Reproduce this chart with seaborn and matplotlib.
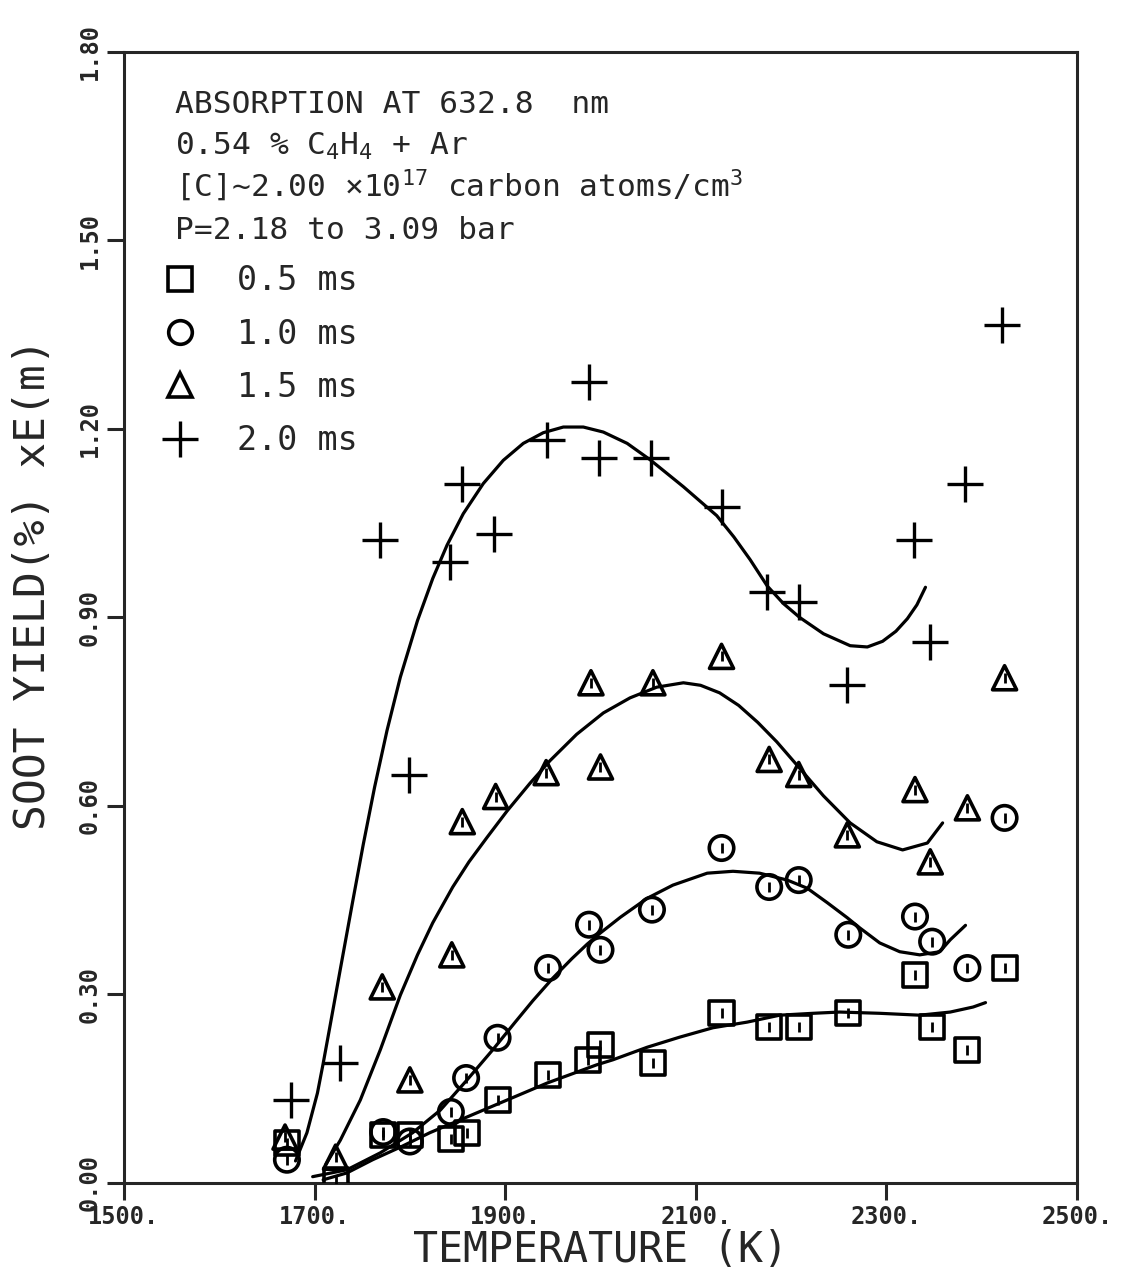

# %%
"""
Soot yield vs temperature, 0.54 % C4H4 + Ar, absorption at 632.8 nm.
"""

# %%
# Imports
import pandas as pd
import matplotlib
matplotlib.use("Agg")
import matplotlib.pyplot as plt
from matplotlib.lines import Line2D
import seaborn as sns

# %%
# Data
t_05 = [1671, 1722, 1772, 1800, 1843, 1860, 1892, 1945, 1987, 2000, 2055, 2127, 2177, 2208, 2260, 2330, 2348, 2385, 2424]
y_05 = [0.064, 0.005, 0.076, 0.076, 0.070, 0.080, 0.132, 0.172, 0.196, 0.220, 0.191, 0.271, 0.248, 0.248, 0.271, 0.331, 0.248, 0.212, 0.342]

t_10 = [1671, 1772, 1800, 1843, 1859, 1892, 1945, 1988, 2000, 2054, 2127, 2177, 2208, 2260, 2330, 2348, 2385, 2424]
y_10 = [0.037, 0.081, 0.066, 0.113, 0.167, 0.231, 0.342, 0.411, 0.371, 0.435, 0.533, 0.471, 0.482, 0.395, 0.424, 0.384, 0.342, 0.581]

t_15 = [1669, 1722, 1771, 1800, 1844, 1855, 1890, 1943, 1990, 2000, 2055, 2127, 2177, 2208, 2259, 2330, 2346, 2385, 2424]
y_15 = [0.073, 0.041, 0.312, 0.164, 0.363, 0.575, 0.615, 0.653, 0.796, 0.662, 0.796, 0.838, 0.674, 0.650, 0.554, 0.626, 0.511, 0.597, 0.804]

t_20 = [1675, 1727, 1769, 1799, 1842, 1855, 1888, 1944, 1988, 1998, 2053, 2127, 2175, 2208, 2259, 2329, 2346, 2382, 2421]
y_20 = [0.132, 0.191, 1.024, 0.650, 0.989, 1.113, 1.032, 1.183, 1.274, 1.154, 1.154, 1.075, 0.941, 0.924, 0.793, 1.024, 0.861, 1.113, 1.365]

# fitted curves
ct_05 = [1709, 1734, 1761, 1790, 1821, 1860, 1902, 1944, 1996, 2013, 2049, 2083, 2118, 2154,
         2188, 2223, 2251, 2293, 2335, 2367, 2391, 2404]
cy_05 = [0.005, 0.016, 0.037, 0.057, 0.080, 0.105, 0.132, 0.159, 0.188, 0.196, 0.216, 0.232, 0.247, 0.256,
         0.267, 0.270, 0.272, 0.270, 0.267, 0.272, 0.280, 0.287]

ct_10 = [1698, 1734, 1769, 1803, 1832, 1860, 1887, 1910, 1929, 1950, 1970, 1986, 2000, 2021, 2049, 2076, 2112,
         2139, 2167, 2196, 2217, 2238, 2259, 2272, 2293, 2314, 2335, 2356, 2367, 2383]
cy_10 = [0.010, 0.021, 0.048, 0.080, 0.116, 0.164, 0.212, 0.255, 0.290, 0.326, 0.357, 0.380, 0.398, 0.423, 0.453,
         0.474, 0.493, 0.496, 0.493, 0.482, 0.469, 0.446, 0.422, 0.406, 0.382, 0.368, 0.363, 0.368, 0.387, 0.410]

ct_15 = [1712, 1727, 1748, 1769, 1790, 1808, 1824, 1845, 1862, 1881, 1902, 1926, 1947, 1975, 2003, 2031,
         2059, 2087, 2105, 2125, 2145, 2165, 2185, 2209, 2234, 2262, 2290, 2317, 2343, 2359]
cy_15 = [0.030, 0.068, 0.132, 0.212, 0.299, 0.363, 0.414, 0.471, 0.511, 0.550, 0.592, 0.636, 0.672, 0.714, 0.748, 0.772,
         0.789, 0.796, 0.792, 0.780, 0.760, 0.733, 0.702, 0.660, 0.616, 0.573, 0.543, 0.530, 0.541, 0.573]

ct_20 = [1680, 1692, 1703, 1709, 1716, 1727, 1740, 1751, 1763, 1776, 1790, 1808, 1824, 1839, 1856,
         1877, 1898, 1919, 1940, 1961, 1982, 2003, 2028, 2052, 2087, 2122, 2140, 2157, 2175, 2192,
         2209, 2234, 2262, 2280, 2296, 2310, 2322, 2332, 2341]
cy_20 = [0.035, 0.080, 0.143, 0.190, 0.248, 0.340, 0.448, 0.538, 0.630, 0.720, 0.805, 0.895, 0.962, 1.015, 1.065,
         1.113, 1.150, 1.177, 1.194, 1.203, 1.203, 1.195, 1.177, 1.151, 1.108, 1.062, 1.028, 0.992, 0.950, 0.922,
         0.900, 0.874, 0.855, 0.853, 0.862, 0.878, 0.898, 0.920, 0.948]

x_ticks = [1500, 1700, 1900, 2100, 2300, 2500]
x_ticklabels = ["1500.", "1700.", "1900.", "2100.", "2300.", "2500."]
y_ticks = [0.0, 0.3, 0.6, 0.9, 1.2, 1.5, 1.8]
y_ticklabels = ["0.00", "0.30", "0.60", "0.90", "1.20", "1.50", "1.80"]

series = [
    ("0.5 ms", t_05, y_05, ct_05, cy_05, "s"),
    ("1.0 ms", t_10, y_10, ct_10, cy_10, "o"),
    ("1.5 ms", t_15, y_15, ct_15, cy_15, "^"),
    ("2.0 ms", t_20, y_20, ct_20, cy_20, "+"),
]

# %%
# Style
sns.set_theme(style="ticks")
plt.rcParams["font.family"] = ["DejaVu Sans Mono", "DejaVu Sans"]
plt.rcParams["mathtext.fontset"] = "custom"
plt.rcParams["mathtext.rm"] = "DejaVu Sans Mono"
plt.rcParams["axes.linewidth"] = 2.2
plt.rcParams["lines.solid_joinstyle"] = "round"

fig = plt.figure(figsize=(11.3, 12.69), dpi=100)
ax = fig.add_axes([0.1097, 0.0678, 0.8434, 0.8913])

# %%
# Curves and points
marker_area = {"s": 300, "o": 310, "^": 300}
for name, t, y, ct, cy, mk in series:
    df_c = pd.DataFrame({"T": ct, "Y": cy})
    sns.lineplot(data=df_c, x="T", y="Y", ax=ax, color="black", lw=2.3, sort=False, estimator=None)
    df_p = pd.DataFrame({"T": t, "Y": y})
    if mk == "+":
        sns.scatterplot(data=df_p, x="T", y="Y", ax=ax, marker="+", s=680, color="black", linewidth=2.4, zorder=3)
    else:
        sns.scatterplot(data=df_p, x="T", y="Y", ax=ax, marker=mk, s=marker_area[mk], facecolor="none",
                        edgecolor="black", linewidth=2.6, zorder=3)
        sns.scatterplot(data=df_p, x="T", y="Y", ax=ax, marker="|", s=55, color="black", linewidth=2.0, zorder=4)

# %%
# Axes
ax.set_xlim(1500, 2500)
ax.set_ylim(0, 1.8)
ax.set_xticks(x_ticks)
ax.set_xticklabels(x_ticklabels, fontsize=17, fontweight="bold")
ax.set_yticks(y_ticks)
ax.set_yticklabels(y_ticklabels, fontsize=17, fontweight="bold", rotation=90, va="center")
ax.tick_params(axis="both", direction="out", length=12, width=2.2, pad=4, top=False, right=False)
ax.set_xlabel("TEMPERATURE (K)", fontsize=30, labelpad=0)
ax.set_ylabel("SOOT YIELD(%) xE(m)", fontsize=31)
ax.yaxis.set_label_coords(-0.073, 0.529)

# %%
# Annotation block
lines = [
    "ABSORPTION AT 632.8  nm",
    "0.54 % C$_4$H$_4$ + Ar",
    "[C]~2.00 \u00d710$^{17}$ carbon atoms/cm$^3$",
    "P=2.18 to 3.09 bar",
]
for i, txt in enumerate(lines):
    ax.text(0.0535, 0.946 - i * 0.037, txt, transform=ax.transAxes, fontsize=22.5, va="baseline", ha="left")

handles = []
for name, t, y, ct, cy, mk in series:
    if mk == "+":
        h = Line2D([], [], ls="none", marker="+", markersize=26, mew=2.4, color="black")
    else:
        h = Line2D([], [], ls="none", marker=mk, markersize=17, mfc="none", mec="black", mew=2.6)
    handles.append(h)
ax.legend(handles, [s[0] for s in series], loc="upper left", bbox_to_anchor=(0.027, 0.824),
          frameon=False, fontsize=24, handlelength=1.0, handletextpad=1.21, labelspacing=0.61,
          borderaxespad=0)

fig.savefig("out.png", dpi=100)
